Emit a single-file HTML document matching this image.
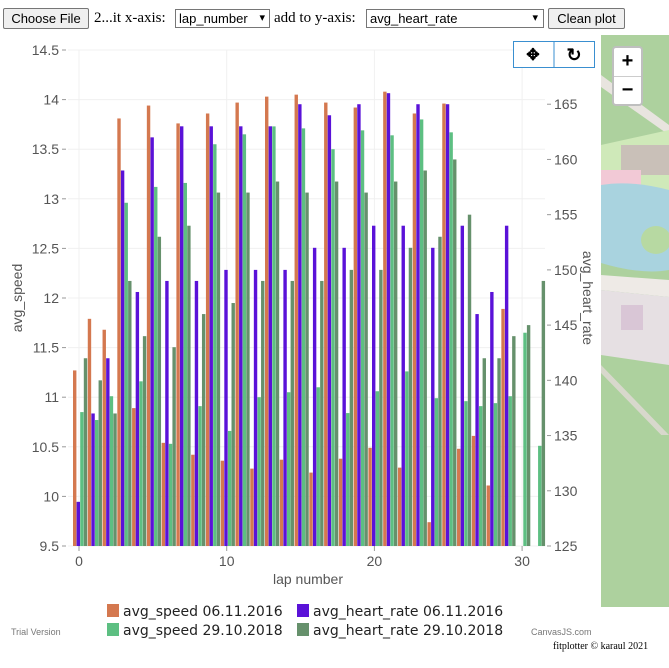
<!DOCTYPE html>
<html><head><meta charset="utf-8"><style>
body{margin:0;width:669px;height:668px;background:#fff;position:relative;overflow:hidden;font-family:"Liberation Sans",sans-serif}
.top{position:absolute;left:0;top:0;height:35px;width:669px;font-family:"Liberation Serif",serif;font-size:15px}
.btn{position:absolute;top:8px;height:21px;border:1px solid #767676;border-radius:2px;background:#efefef;font-family:"Liberation Sans",sans-serif;font-size:13px;line-height:19px;padding:0 5px;box-sizing:border-box;white-space:nowrap;overflow:hidden;text-align:center}
.sel{position:absolute;top:9px;height:19px;border:1px solid #767676;background:#fff;font-family:"Liberation Sans",sans-serif;font-size:13px;line-height:17px;padding:0 3px;box-sizing:border-box;white-space:nowrap;overflow:hidden}
.txt{position:absolute;top:9px;line-height:18px;white-space:nowrap}
</style></head><body>
<div class="top">
<div class="btn" style="left:3px;width:86px">Choose File</div>
<div class="txt" style="left:94px">2...it x-axis:</div>
<div class="sel" style="left:175px;width:95px">lap_number<span style="position:absolute;right:4px;font-size:11px">▾</span></div>
<div class="txt" style="left:274px">add to y-axis:</div>
<div class="sel" style="left:366px;width:178px">avg_heart_rate<span style="position:absolute;right:5px;font-size:11px">▾</span></div>
<div class="btn" style="left:548px;width:77px">Clean plot</div>
</div>

<svg width="600" height="668" style="position:absolute;left:0;top:0" id="chart">
<g id="grid"></g><g id="bars"></g><g id="axes"></g>
<text x="22" y="298" transform="rotate(-90 22 298)" text-anchor="middle" font-size="14" fill="#555">avg_speed</text>
<text x="583" y="298" transform="rotate(90 583 298)" text-anchor="middle" font-size="14" fill="#555">avg_heart_rate</text>
<text x="308" y="584" text-anchor="middle" font-size="14" fill="#555">lap number</text>
<g>
<rect x="513.5" y="41.5" width="81" height="26" fill="#fff" stroke="#3a8fd0"/>
<line x1="554" y1="41.5" x2="554" y2="67.5" stroke="#3a8fd0"/>
<text x="533" y="60" text-anchor="middle" font-size="16" font-weight="bold">✥</text>
<text x="574" y="61" text-anchor="middle" font-size="18" font-weight="bold">↻</text>
</g>
<g font-size="14" fill="#222" font-family="DejaVu Sans, sans-serif">
<rect x="107" y="604" width="12" height="13" fill="#d4784f"/><text x="123" y="616">avg_speed 06.11.2016</text>
<rect x="297" y="604" width="12" height="13" fill="#5a12d8"/><text x="313" y="616">avg_heart_rate 06.11.2016</text>
<rect x="107" y="623" width="12" height="13" fill="#5dbf82"/><text x="123" y="635">avg_speed 29.10.2018</text>
<rect x="297" y="623" width="12" height="13" fill="#66916c"/><text x="313" y="635">avg_heart_rate 29.10.2018</text>
</g>
<text x="11" y="635" font-size="9" fill="#777">Trial Version</text>
<text x="531" y="635" font-size="9" fill="#777">CanvasJS.com</text>
</svg>

<div style="position:absolute;left:601px;top:35px;width:68px;height:572px;background:#aed3a0;overflow:hidden">
<svg width="68" height="572">
<rect x="0" y="0" width="68" height="572" fill="#add19e"/>
<path d="M0 40 L68 90 L68 100 L0 52Z" fill="#e8e4df"/>
<path d="M0 110 L68 95 L68 160 L0 160Z" fill="#cfe9b9"/>
<rect x="20" y="110" width="48" height="30" fill="#c9c0b8"/>
<rect x="0" y="135" width="40" height="30" fill="#f2c9d6"/>
<path d="M0 150 Q30 145 68 155 L68 235 Q40 240 0 228Z" fill="#a9d3df"/>
<ellipse cx="55" cy="205" rx="15" ry="14" fill="#b7d9a2"/>
<path d="M0 240 L68 245 L68 262 L0 255Z" fill="#eeeae6"/>
<path d="M0 255 L68 262 L68 330 L0 320Z" fill="#e6e0e3"/>
<rect x="20" y="270" width="22" height="25" fill="#d9c6d6"/>
<path d="M0 330 L68 400 L68 408 L0 338Z" fill="#d8d8cc"/>
<path d="M0 440 L68 500" stroke="#fff" stroke-width="2"/>
<rect x="0" y="400" width="68" height="172" fill="#add19e"/>
</svg>
<div style="position:absolute;left:11px;top:11px;width:31px;height:60px;background:#fff;border:2px solid rgba(0,0,0,0.25);border-radius:4px;box-sizing:border-box">
<div style="height:28px;border-bottom:1px solid #ccc;text-align:center;font:bold 20px/27px 'Liberation Sans',sans-serif">+</div>
<div style="height:28px;text-align:center;font:bold 20px/26px 'Liberation Sans',sans-serif">−</div>
</div>
</div>
<div style="position:absolute;left:553px;top:641px;font-family:'Liberation Serif',serif;font-size:10px">fitplotter © karaul 2021</div>

<script>
const laps = [0,1,2,3,4,5,6,7,8,9,10,11,12,13,14,15,16,17,18,19,20,21,22,23,24,25,26,27,28,29,30,31];
const speed2016 = [11.27,11.79,11.68,13.81,10.89,13.94,10.54,13.76,10.42,13.86,10.36,13.97,10.28,14.03,10.37,14.05,10.24,13.97,10.38,13.92,10.49,14.08,10.29,13.86,9.74,13.96,10.48,10.61,10.11,11.89,null,null];
const hr2016 = [129,137,142,159,148,162,149,163,149,163,150,163,150,163,150,165,152,164,152,165,154,166,154,165,152,165,154,146,148,154,null,null];
const speed2018 = [10.85,10.77,11.01,12.96,11.16,13.12,10.53,13.16,10.91,13.55,10.66,13.65,11.0,13.73,11.05,13.71,11.1,13.5,10.84,13.69,11.06,13.64,11.26,13.8,10.99,13.67,10.96,10.91,10.94,11.01,11.65,10.51];
const hr2018 = [142,140,137,149,144,153,143,154,146,157,147,157,149,158,149,157,149,158,150,157,150,158,152,159,153,160,155,142,142,144,145,149];
const leftTicks = [9.5,10,10.5,11,11.5,12,12.5,13,13.5,14,14.5];
const rightTicks = [125,130,135,140,145,150,155,160,165];
const xTicks = [0,10,20,30];

const NS='http://www.w3.org/2000/svg';
const X0=68,X1=545,YT=50,YB=546;
const xs=v=>79+v*14.77;
const yl=v=>YB-(v-9.5)*(YB-YT)/5;
const yr=v=>YB-(v-125)*(YB-49)/45;
function mk(tag,attrs,parent){const e=document.createElementNS(NS,tag);for(const k in attrs)e.setAttribute(k,attrs[k]);parent.appendChild(e);return e;}
const grid=document.getElementById('grid'),bars=document.getElementById('bars'),axes=document.getElementById('axes');
leftTicks.forEach(t=>{
  const g=mk('line',{x1:X0,x2:X1,y1:yl(t),y2:yl(t),stroke:'#f0f0f0'},grid);
  
  
  const tk=mk('line',{x1:X0-6,x2:X0-2,y1:yl(t),y2:yl(t),stroke:'#999'},axes);
  
  
  const tx=mk('text',{x:X0-9,y:yl(t)+5,'text-anchor':'end','font-size':14,fill:'#555'},axes);
  tx.textContent=t;
  
  
});
rightTicks.forEach(t=>{
  const tk=mk('line',{x1:X1+2,x2:X1+6,y1:yr(t),y2:yr(t),stroke:'#999'},axes);
  
  
  const tx=mk('text',{x:X1+9,y:yr(t)+5,'font-size':14,fill:'#555'},axes);
  tx.textContent=t;
  
  
});
xTicks.forEach(t=>{
  const g=mk('line',{x1:xs(t),x2:xs(t),y1:YT,y2:YB,stroke:'#f0f0f0'},grid);
  
  
  const tk=mk('line',{x1:xs(t),x2:xs(t),y1:YB,y2:YB+5,stroke:'#999'},axes);
  
  
  const tx=mk('text',{x:xs(t),y:YB+20,'text-anchor':'middle','font-size':14,fill:'#555'},axes);
  tx.textContent=t;
  
  
});
const series=[[speed2016,yl,'#d4784f',-6],[hr2016,yr,'#5a12d8',-2.4],[speed2018,yl,'#5dbf82',1.2],[hr2018,yr,'#66916c',4.8]];
series.forEach(([vals,sc,col,off],si)=>{
  laps.forEach((l,i)=>{
    const v=vals[i]; if(v==null) return;
    const y=Math.max(sc(v),YT);
    const r=mk('rect',{x:xs(l)+off,y:y,width:3.4,height:YB-y,fill:col},bars);
    
    
  });
});
</script>
</body></html>
